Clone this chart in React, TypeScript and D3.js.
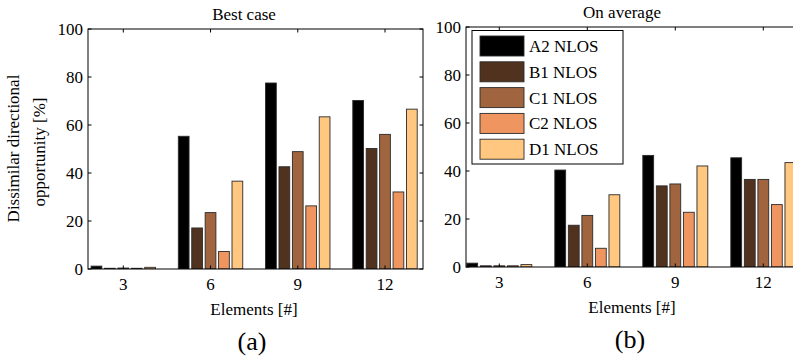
import React from "react";
import * as d3 from "d3";

// Series names and colours (copper colormap samples)
const seriesNames = ["A2 NLOS", "B1 NLOS", "C1 NLOS", "C2 NLOS", "D1 NLOS"];
const seriesColors = ["#000000", "#50321f", "#a0643f", "#ef955f", "#ffc77f"];

// Array sizes on the x axis
const elementCounts = ["3", "6", "9", "12"];
const yTicks = [0, 20, 40, 60, 80, 100];

// Best case: one array per series, values for 3, 6, 9, 12 elements
const bestA2 = [1.2, 55.3, 77.5, 70.2];
const bestB1 = [0.3, 17.1, 42.6, 50.2];
const bestC1 = [0.4, 23.5, 48.9, 56.1];
const bestC2 = [0.3, 7.3, 26.3, 32.1];
const bestD1 = [0.7, 36.6, 63.4, 66.6];

// On average
const avgA2 = [1.6, 40.4, 46.5, 45.5];
const avgB1 = [0.5, 17.4, 33.8, 36.5];
const avgC1 = [0.5, 21.5, 34.6, 36.5];
const avgC2 = [0.5, 7.8, 22.8, 26.0];
const avgD1 = [1.0, 30.1, 42.1, 43.5];

const FONT = "'Liberation Serif', 'Times New Roman', serif";

type PanelProps = {
  title: string;
  tag: string;
  series: number[][];
  left: number;
  right: number;
  top: number;
  bottom: number;
  tickFirst: number;
  tickLast: number;
  legend?: boolean;
};

function Panel(p: PanelProps) {
  const x = d3.scaleLinear().domain([1, 4]).range([p.tickFirst, p.tickLast]);
  const y = d3.scaleLinear().domain([0, 100]).range([p.bottom, p.top]);
  const n = p.series.length;
  const groupWidth = Math.min(0.8, n / (n + 1.5));
  const slot = groupWidth / n;
  const barW = slot * 0.8;
  const tl = 3.5;

  return (
    <g>
      <clipPath id={`clip-${p.tag}`}>
        <rect x={p.left} y={p.top} width={p.right - p.left} height={p.bottom - p.top} />
      </clipPath>
      <rect x={p.left} y={p.top} width={p.right - p.left} height={p.bottom - p.top} fill="#fff" />
      <g clipPath={`url(#clip-${p.tag})`}>
        {p.series.map((vals, si) =>
          vals.map((v, gi) => {
            const c = gi + 1 + (si - (n - 1) / 2) * slot;
            const x0 = x(c - barW / 2);
            const x1 = x(c + barW / 2);
            return (
              <rect
                key={`${si}-${gi}`}
                x={x0}
                y={y(v)}
                width={x1 - x0}
                height={y(0) - y(v)}
                fill={seriesColors[si]}
                stroke="#2b2b2b"
                strokeWidth={0.9}
              />
            );
          })
        )}
      </g>
      {/* axes box */}
      <rect
        x={p.left}
        y={p.top}
        width={p.right - p.left}
        height={p.bottom - p.top}
        fill="none"
        stroke="#000"
        strokeWidth={1}
      />
      {/* ticks */}
      {yTicks.map((t) => (
        <g key={`yt${t}`}>
          <line x1={p.left} x2={p.left + tl} y1={y(t)} y2={y(t)} stroke="#000" />
          <line x1={p.right} x2={p.right - tl} y1={y(t)} y2={y(t)} stroke="#000" />
          <text
            x={p.left - 5}
            y={y(t) + 6}
            textAnchor="end"
            fontSize={17}
            fontFamily={FONT}
          >
            {t}
          </text>
        </g>
      ))}
      {elementCounts.map((lab, i) => (
        <g key={`xt${lab}`}>
          <line x1={x(i + 1)} x2={x(i + 1)} y1={p.bottom} y2={p.bottom - tl} stroke="#000" />
          <line x1={x(i + 1)} x2={x(i + 1)} y1={p.top} y2={p.top + tl} stroke="#000" />
          <text
            x={x(i + 1)}
            y={p.bottom + 20.5}
            textAnchor="middle"
            fontSize={17}
            fontFamily={FONT}
          >
            {lab}
          </text>
        </g>
      ))}
      <text x={p.left + 156} y={p.top - 9} textAnchor="middle" fontSize={17} fontFamily={FONT}>
        {p.title}
      </text>
      <text x={p.left + 166} y={p.bottom + 46} textAnchor="middle" fontSize={17} fontFamily={FONT}>
        Elements [#]
      </text>
      <text x={p.left + 164} y={p.bottom + 81} textAnchor="middle" fontSize={26} fontFamily={FONT}>
        ({p.tag})
      </text>
      {p.legend && (
        <g>
          <rect x={472} y={30.5} width={151} height={133.5} fill="#fff" stroke="#000" strokeWidth={1} />
          {seriesNames.map((name, i) => {
            const top = 36 + i * 25.8;
            return (
              <g key={name}>
                <rect
                  x={480}
                  y={top}
                  width={44}
                  height={20}
                  fill={seriesColors[i]}
                  stroke="#2b2b2b"
                  strokeWidth={0.9}
                />
                <text x={529} y={top + 16} fontSize={17} fontFamily={FONT}>
                  {name}
                </text>
              </g>
            );
          })}
        </g>
      )}
    </g>
  );
}

export default function App() {
  const best = [bestA2, bestB1, bestC1, bestC2, bestD1];
  const avg = [avgA2, avgB1, avgC1, avgC2, avgD1];
  return (
    <svg
      width={793}
      height={359}
      style={{ position: "fixed", left: 0, top: 0, background: "#fff" }}
    >
      <rect x={0} y={0} width={793} height={359} fill="#fff" />
      <Panel
        title="Best case"
        tag="a"
        series={best}
        left={88}
        right={423}
        top={29}
        bottom={269}
        tickFirst={123.3}
        tickLast={385}
      />
      <Panel
        title="On average"
        tag="b"
        series={avg}
        left={466}
        right={801}
        top={27}
        bottom={267}
        tickFirst={499.3}
        tickLast={763.3}
        legend
      />
      <g fontFamily={FONT} fontSize={17}>
        <text transform="translate(19,148.5) rotate(-90)" textAnchor="middle">
          Dissimilar directional
        </text>
        <text transform="translate(45,152) rotate(-90)" textAnchor="middle">
          opportunity [%]
        </text>
      </g>
    </svg>
  );
}
